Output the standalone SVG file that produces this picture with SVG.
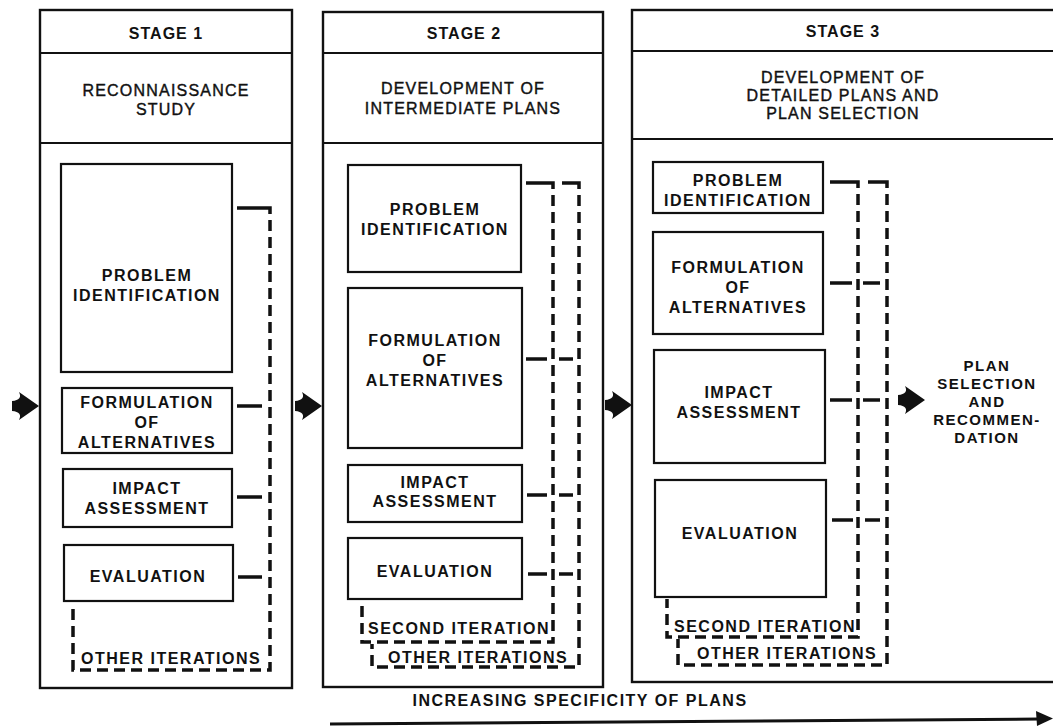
<svg xmlns="http://www.w3.org/2000/svg" width="1053" height="726" viewBox="0 0 1053 726">
<style>
.frame{fill:none;stroke:#111;stroke-width:2.4}
.box{fill:#fff;stroke:#111;stroke-width:2.2}
.sep{stroke:#111;stroke-width:2.2}
text{font-family:"Liberation Sans",Arial,sans-serif;fill:#111;text-anchor:middle}
.title{font-size:16px;font-weight:bold;letter-spacing:1px}
.desc{font-size:16px;letter-spacing:1.2px;stroke:#111;stroke-width:0.4}
.lbl{font-size:16px;font-weight:bold;letter-spacing:1.5px}
.it{font-size:16px;font-weight:bold;letter-spacing:1.5px;text-anchor:start}
.dash{fill:none;stroke:#111;stroke-width:3.5;stroke-dasharray:11 6}
.solid{fill:none;stroke:#111;stroke-width:3.5}
.arr{fill:#111}
</style>
<defs>
<path id="blk" d="M0,0 L-20,-14 Q-16,-6 -27,-5 L-27,5 Q-16,6 -20,14 Z"/>
</defs>
<rect width="1053" height="726" fill="#fff"/>

<g id="stage1">
<rect class="frame" x="40" y="10" width="252" height="678"/>
<line class="sep" x1="40" y1="53" x2="292" y2="53"/>
<line class="sep" x1="40" y1="143" x2="292" y2="143"/>
<text class="title" x="166" y="39">STAGE 1</text>
<text class="desc" x="166" y="96">RECONNAISSANCE</text>
<text class="desc" x="166" y="115">STUDY</text>
</g>
<g id="s1-problem">
<rect class="box" x="61" y="164" width="171" height="208"/>
<text class="lbl" x="147" y="281">PROBLEM</text>
<text class="lbl" x="147" y="301">IDENTIFICATION</text>
</g>
<g id="s1-formulation">
<rect class="box" x="62" y="388" width="170" height="65"/>
<text class="lbl" x="147" y="408">FORMULATION</text>
<text class="lbl" x="147" y="428">OF</text>
<text class="lbl" x="147" y="448">ALTERNATIVES</text>
</g>
<g id="s1-impact">
<rect class="box" x="63" y="469" width="169" height="58"/>
<text class="lbl" x="147" y="494">IMPACT</text>
<text class="lbl" x="147" y="514">ASSESSMENT</text>
</g>
<g id="s1-evaluation">
<rect class="box" x="64" y="545" width="169" height="56"/>
<text class="lbl" x="148" y="582">EVALUATION</text>
</g>

<g id="stage2">
<rect class="frame" x="323" y="12" width="280" height="675"/>
<line class="sep" x1="323" y1="53" x2="603" y2="53"/>
<line class="sep" x1="323" y1="143" x2="603" y2="143"/>
<text class="title" x="464" y="39">STAGE 2</text>
<text class="desc" x="463" y="94">DEVELOPMENT OF</text>
<text class="desc" x="463" y="114">INTERMEDIATE PLANS</text>
</g>
<g id="s2-problem">
<rect class="box" x="348" y="165" width="173" height="107"/>
<text class="lbl" x="435" y="215">PROBLEM</text>
<text class="lbl" x="435" y="235">IDENTIFICATION</text>
</g>
<g id="s2-formulation">
<rect class="box" x="348" y="288" width="174" height="160"/>
<text class="lbl" x="435" y="346">FORMULATION</text>
<text class="lbl" x="435" y="366">OF</text>
<text class="lbl" x="435" y="386">ALTERNATIVES</text>
</g>
<g id="s2-impact">
<rect class="box" x="348" y="465" width="174" height="57"/>
<text class="lbl" x="435" y="488">IMPACT</text>
<text class="lbl" x="435" y="507">ASSESSMENT</text>
</g>
<g id="s2-evaluation">
<rect class="box" x="348" y="538" width="174" height="61"/>
<text class="lbl" x="435" y="577">EVALUATION</text>
</g>

<g id="stage3">
<rect class="frame" x="632" y="10" width="430" height="672"/>
<line class="sep" x1="632" y1="51" x2="1053" y2="51"/>
<line class="sep" x1="632" y1="139" x2="1053" y2="139"/>
<text class="title" x="843" y="37">STAGE 3</text>
<text class="desc" x="843" y="83">DEVELOPMENT OF</text>
<text class="desc" x="843" y="101">DETAILED PLANS AND</text>
<text class="desc" x="843" y="119">PLAN SELECTION</text>
</g>
<g id="s3-problem">
<rect class="box" x="653" y="162" width="170" height="51"/>
<text class="lbl" x="738" y="186">PROBLEM</text>
<text class="lbl" x="738" y="206">IDENTIFICATION</text>
</g>
<g id="s3-formulation">
<rect class="box" x="653" y="232" width="170" height="102"/>
<text class="lbl" x="738" y="273">FORMULATION</text>
<text class="lbl" x="738" y="293">OF</text>
<text class="lbl" x="738" y="313">ALTERNATIVES</text>
</g>
<g id="s3-impact">
<rect class="box" x="654" y="350" width="171" height="113"/>
<text class="lbl" x="739" y="398">IMPACT</text>
<text class="lbl" x="739" y="418">ASSESSMENT</text>
</g>
<g id="s3-evaluation">
<rect class="box" x="655" y="480" width="171" height="117"/>
<text class="lbl" x="740" y="539">EVALUATION</text>
</g>
<g id="plan-selection">
<text class="lbl" x="987" y="371" style="font-size:15px">PLAN</text>
<text class="lbl" x="987" y="389" style="font-size:15px">SELECTION</text>
<text class="lbl" x="987" y="407" style="font-size:15px">AND</text>
<text class="lbl" x="987" y="425" style="font-size:15px">RECOMMEN-</text>
<text class="lbl" x="987" y="443" style="font-size:15px">DATION</text>
</g>

<g id="iteration-labels">
<text class="it" x="81" y="664">OTHER ITERATIONS</text>
<text class="it" x="368" y="634">SECOND ITERATION</text>
<text class="it" x="388" y="663">OTHER ITERATIONS</text>
<text class="it" x="674" y="632">SECOND ITERATION</text>
<text class="it" x="697" y="659">OTHER ITERATIONS</text>
<text class="lbl" x="580" y="706">INCREASING SPECIFICITY OF PLANS</text>
</g>

<g id="connectors">
<path class="solid" d="M237,208 H270 V214"/>
<path class="dash" d="M270,220 V670 H73 V603"/>
<path class="solid" d="M237,406 H262 M237,497 H262 M238,577 H262"/>
<path class="solid" d="M526,183 H553 V189 M562,183 H579 V189"/>
<path class="dash" d="M553,195 V642 H362 V601"/>
<path class="dash" d="M579,195 V667 H372 V644"/>
<path class="solid" d="M526,359 H547 M559,359 H573 M527,495 H547 M559,495 H573 M528,574 H547 M559,574 H573"/>
<path class="solid" d="M830,182 H858 V188 M868,182 H887 V188"/>
<path class="dash" d="M858,194 V637 H667 V599"/>
<path class="dash" d="M887,194 V665 H678 V639"/>
<path class="solid" d="M830,283 H852 M863,283 H880 M830,400 H852 M863,400 H880 M832,520 H853 M865,520 H880"/>
<use href="#blk" class="arr" transform="translate(39,406)"/>
<use href="#blk" class="arr" transform="translate(322,406)"/>
<use href="#blk" class="arr" transform="translate(632,405)"/>
<use href="#blk" class="arr" transform="translate(925,400)"/>
<path class="solid" style="stroke-width:3" d="M330,724 L1040,719"/>
<path class="arr" d="M1053,718.5 L1036,711 L1037,726 Z"/>
</g>
</svg>
